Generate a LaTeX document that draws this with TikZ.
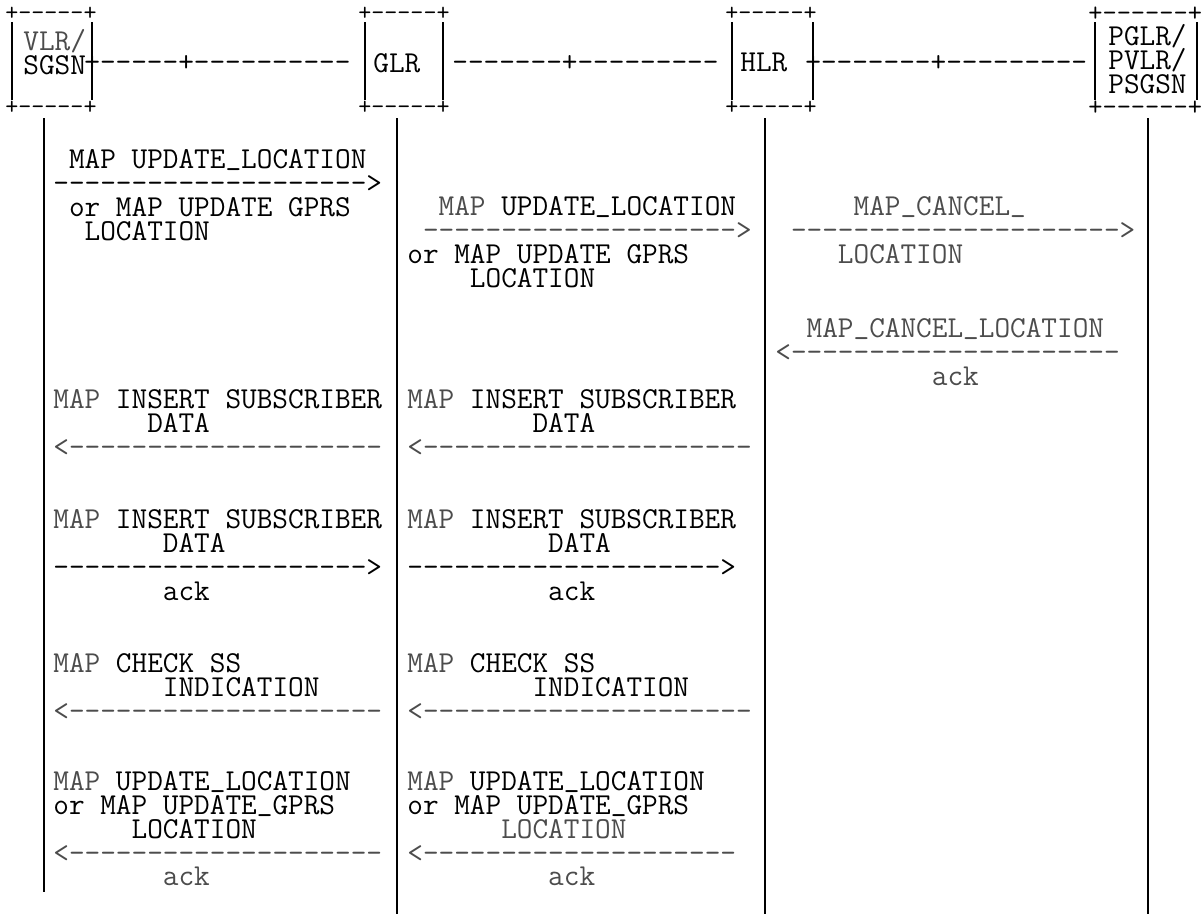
\documentclass[tikz,border=0pt]{standalone}
\newcommand\lite[1]{\textcolor{black!70}{#1}}
\newcommand\us{\raisebox{.14em}{\_}}
\newcommand\msgfont{\ttfamily\fontsize{17.3}{13.6}\selectfont\lineskiplimit=-20pt\relax}
\tikzset{ txt/.style = { font          = \msgfont
                       , align         = left
                       , anchor        = north west
                       , inner sep     = 0pt
                       , execute at begin node = \vphantom{M}
                       },
          rim/.style = { font      = \ttfamily\fontsize{14.4}{14.4}\selectfont
                       , anchor    = west
                       , inner sep = 0pt
                       },
          lifeline/.style = { line width = 0.7pt }
        }
\begin{document}
\begin{tikzpicture}[x=0.02cm, y=-0.02cm]
      \useasboundingbox (0,0) rectangle (1202,914);
      % entity boxes
      \node[txt] (vlr)  at (23,29)   {\lite{VLR/}\\SGSN};
      \node[txt] (glr)  at (373,53)  {GLR};
      \node[txt] (hlr)  at (740,53)  {HLR};
      \node[txt] (pglr) at (1108,24) {PGLR/\\PVLR/\\PSGSN};
      \node[rim] (vlrtop)  at (5,14)    {+-----+};
      \node[rim] (vlrbot)  at (5,108)   {+-----+};
      \node[rim] (glrtop)  at (358,14)  {+-----+};
      \node[rim] (glrbot)  at (358,108) {+-----+};
      \node[rim] (hlrtop)  at (725,14)  {+-----+};
      \node[rim] (hlrbot)  at (725,108) {+-----+};
      \node[rim, font=\ttfamily\fontsize{15.7}{15.7}\selectfont] (pglrtop) at (1088,14)  {+------+};
      \node[rim, font=\ttfamily\fontsize{15.7}{15.7}\selectfont] (pglrbot) at (1088,108) {+------+};
      \draw[lifeline] (12,22)--(12,100)     (92,22)--(92,100)
                      (365,22)--(365,100)   (443,22)--(443,100)
                      (732,22)--(732,100)   (813,22)--(813,100)
                      (1095,22)--(1095,100) (1197,22)--(1197,100);
      % links between the boxes
      \node[txt] (vlrglr)  at (84,53)  {+-----+----------};
      \node[txt] (glrhlr)  at (452,53) {-------+---------};
      \node[txt] (hlrpglr) at (805,53) {+-------+---------};
      % lifelines
      \coordinate (vlr0)  at (44,118);   \coordinate (vlr1)  at (44,892);
      \coordinate (glr0)  at (397,118);  \coordinate (glr1)  at (397,914);
      \coordinate (hlr0)  at (765,118);  \coordinate (hlr1)  at (765,914);
      \coordinate (pglr0) at (1148,118); \coordinate (pglr1) at (1148,914);
      \draw[lifeline] (vlr0)--(vlr1)  (glr0)--(glr1)  (hlr0)--(hlr1)  (pglr0)--(pglr1);
      % messages
      \node[txt] (upd1) at (53,149)
          {~MAP UPDATE\us LOCATION\\-------------------->\\~or MAP UPDATE GPRS\\~~LOCATION};
      \node[txt] (upd2) at (407,196)
          {~~\lite{MAP} UPDATE\us LOCATION\\~\lite{-------------------->}\\or MAP UPDATE GPRS\\~~~~LOCATION};
      \node[txt, text=black!70] (cancel) at (775,196)
          {~~~~~MAP\us CANCEL\us\\~--------------------->\\~~~~LOCATION};
      \node[txt, text=black!70] (cancelack) at (775,318)
          {~~MAP\us CANCEL\us LOCATION\\<---------------------\\~~~~~~~~~~ack};
      \node[txt] (isd1) at (53,389)
          {\lite{MAP} INSERT SUBSCRIBER\\~~~~~~DATA\\\lite{<--------------------}};
      \node[txt] (isd2) at (407,389)
          {\lite{MAP} INSERT SUBSCRIBER\\~~~~~~~~DATA\\\lite{<---------------------}};
      \node[txt] (isdack1) at (53,509)
          {\lite{MAP} INSERT SUBSCRIBER\\~~~~~~~DATA\\-------------------->\\~~~~~~~ack};
      \node[txt] (isdack2) at (407,509)
          {\lite{MAP} INSERT SUBSCRIBER\\~~~~~~~~~DATA\\-------------------->\\~~~~~~~~~ack};
      \node[txt] (chk1) at (53,653)
          {\lite{MAP} CHECK SS\\~~~~~~~INDICATION\\\lite{<--------------------}};
      \node[txt] (chk2) at (407,653)
          {\lite{MAP} CHECK SS\\~~~~~~~~INDICATION\\\lite{<---------------------}};
      \node[txt] (updack1) at (53,771)
          {\lite{MAP} UPDATE\us LOCATION\\or MAP UPDATE\us GPRS\\~~~~~LOCATION\\\lite{<--------------------}\\~~~~~~~\lite{ack}};
      \node[txt] (updack2) at (407,771)
          {\lite{MAP} UPDATE\us LOCATION\\or MAP UPDATE\us GPRS\\~~~~~~\lite{LOCATION}\\\lite{<--------------------}\\~~~~~~~~~\lite{ack}};
    \end{tikzpicture}
\end{document}
